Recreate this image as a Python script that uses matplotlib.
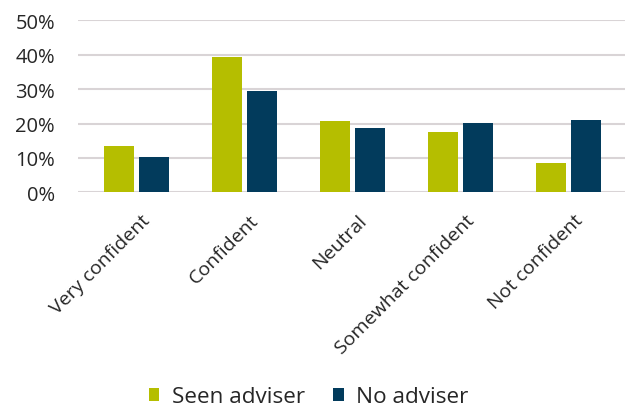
import matplotlib.pyplot as plt
import matplotlib.transforms as mtransforms
import numpy as np
from matplotlib.ticker import PercentFormatter

categories = ["Very confident", "Confident", "Neutral", "Somewhat confident", "Not confident"]
seen_adviser = [13.5, 39.3, 20.7, 17.5, 8.5]
no_adviser = [10.3, 29.5, 18.7, 20.1, 21.0]

green = "#b5be00"
blue = "#023b5c"
text_col = "#262626"

plt.rcParams["font.family"] = ["Open Sans", "DejaVu Sans"]

fig = plt.figure(figsize=(6.25, 4.1), dpi=100)
ax = fig.add_axes([0.1248, 0.5285, 0.8752, 0.4195])

x = np.arange(len(categories))
w = 0.278
off = 0.162
ax.bar(x - off, seen_adviser, w, color=green, label="Seen adviser", zorder=3)
ax.bar(x + off, no_adviser, w, color=blue, label="No adviser", zorder=3)

ax.set_ylim(0, 50)
ax.set_xlim(-0.54, 4.52)
ax.set_yticks(np.arange(0, 51, 10))
ax.yaxis.set_major_formatter(PercentFormatter(decimals=0))
ax.grid(axis="y", color="#d9d4d6", linewidth=1.5, zorder=0)
for s in ax.spines.values():
    s.set_visible(False)
ax.tick_params(axis="y", length=0, pad=16.5, labelsize=14.5, labelcolor=text_col)
ax.tick_params(axis="x", length=0, pad=12, labelsize=14, labelcolor=text_col)
ax.set_xticks(x)
ax.set_xticklabels(categories, rotation=45, ha="right", va="center", rotation_mode="anchor")
shift = mtransforms.ScaledTranslation(8 / 72, -6 / 72, fig.dpi_scale_trans)
for lab in ax.get_xticklabels():
    lab.set_transform(lab.get_transform() + shift)

fig.legend(loc="center", bbox_to_anchor=(0.494, 0.03), ncol=2, frameon=False,
           fontsize=16.2, handlelength=0.48, handleheight=0.52, handletextpad=0.57,
           columnspacing=1.22, labelcolor=text_col, borderaxespad=0, borderpad=0.1)

fig.savefig("out.png", dpi=100)
